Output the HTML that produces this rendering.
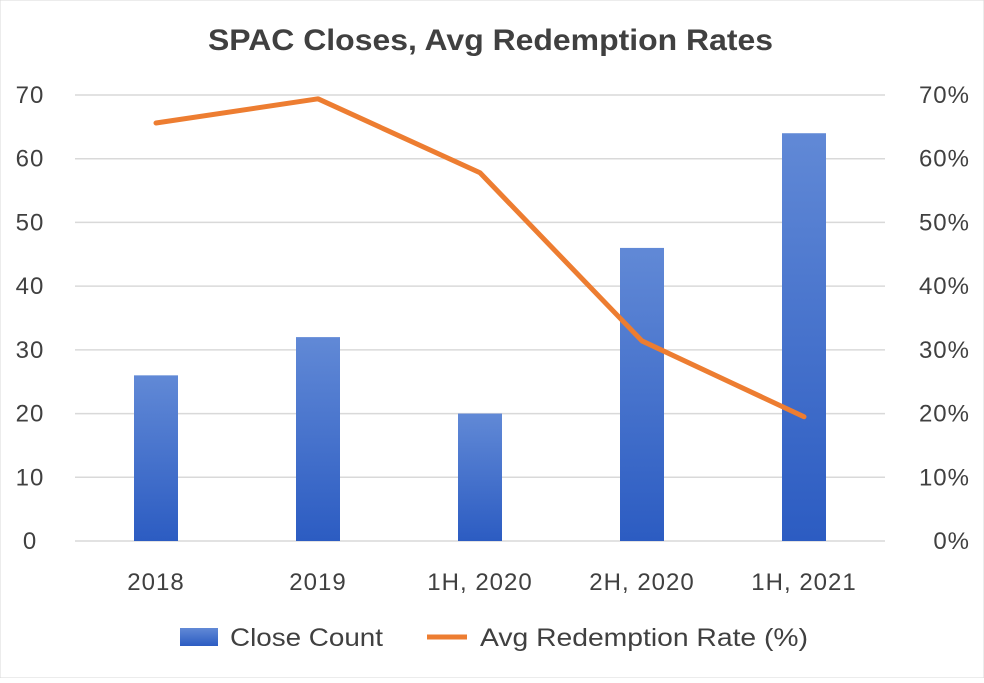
<!DOCTYPE html>
<html><head><meta charset="utf-8"><style>
body{margin:0;background:#fff;}
svg text{font-family:"Liberation Sans",sans-serif;fill:#404040;}
</style></head><body>
<svg id="chart" width="984" height="678" viewBox="0 0 984 678" xmlns="http://www.w3.org/2000/svg">
<defs>
<linearGradient id="barGrad" x1="0" y1="0" x2="0" y2="1">
<stop offset="0" stop-color="#6189d6"/><stop offset="1" stop-color="#2c5cc2"/>
</linearGradient>
</defs>
<rect width="984" height="678" fill="#fff" stroke="#d9d9d9"/>
<text x="208" y="50" font-size="30" font-weight="bold" textLength="565" lengthAdjust="spacingAndGlyphs">SPAC Closes, Avg Redemption Rates</text>
<g id="grid"></g><g id="bars"></g><g id="line"></g><g id="axes"></g>
<g>
<rect x="180" y="628" width="38" height="18" fill="url(#barGrad)"/>
<text x="230" y="646" font-size="25" textLength="153" lengthAdjust="spacingAndGlyphs">Close Count</text>
<line x1="427" y1="637" x2="467" y2="637" stroke="#ed7d31" stroke-width="5"/>
<text x="480" y="646" font-size="25" textLength="328" lengthAdjust="spacingAndGlyphs">Avg Redemption Rate (%)</text>
</g>
</svg>
<script>
const categories=["2018","2019","1H, 2020","2H, 2020","1H, 2021"];
const closeCount=[26,32,20,46,64];
const redemptionRate=[65.6,69.4,57.8,31.4,19.5];
const leftTicks=[0,10,20,30,40,50,60,70];
const rightTicks=["0%","10%","20%","30%","40%","50%","60%","70%"];
const NS="http://www.w3.org/2000/svg";
const x0=75,x1=885,yb=541,yt=95;
const band=(x1-x0)/categories.length;
const xC=i=>x0+band*(i+0.5);
const yL=v=>yb-(v/70)*(yb-yt);
const yR=v=>yb-(v/70)*(yb-yt);
function mk(t,a,p){const e=document.createElementNS(NS,t);for(const k in a)e.setAttribute(k,a[k]);p.appendChild(e);return e;}
const grid=document.getElementById('grid'),bars=document.getElementById('bars'),line=document.getElementById('line'),axes=document.getElementById('axes');
leftTicks.forEach((v,i)=>{
const g=mk('line',{x1:x0,x2:x1,y1:yL(v),y2:yL(v),stroke:'#d9d9d9','stroke-width':1.5},grid);


const t=mk('text',{x:30,y:yL(v)+8,'text-anchor':'middle','font-size':24,'letter-spacing':1},axes);t.textContent=v;


const r=mk('text',{x:970,y:yR(v)+8,'text-anchor':'end','font-size':24,'letter-spacing':1},axes);r.textContent=rightTicks[i];


});
categories.forEach((c,i)=>{
const b=mk('rect',{x:xC(i)-22,y:yL(closeCount[i]),width:44,height:yb-yL(closeCount[i]),fill:'url(#barGrad)'},bars);


const t=mk('text',{x:xC(i),y:590,'text-anchor':'middle','font-size':24,'letter-spacing':1},axes);t.textContent=c;


});
const pl=mk('polyline',{points:redemptionRate.map((v,i)=>xC(i)+','+yR(v)).join(' '),fill:'none',stroke:'#ed7d31','stroke-width':5,'stroke-linejoin':'round','stroke-linecap':'round'},line);


</script>
</body></html>
